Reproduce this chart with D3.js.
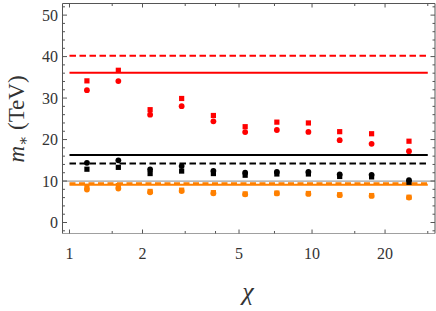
<!DOCTYPE html>
<html>
<head>
<meta charset="utf-8">
<script src="https://cdn.jsdelivr.net/npm/d3@7"></script>
<style>
  body { margin: 0; background: #fff; }
  text { font-family: "Liberation Serif", "DejaVu Serif", serif; fill: #333; }
</style>
</head>
<body>
<svg width="436" height="311"></svg>
<script>
const svg = d3.select("svg");

// chi values of the scan points
const chiValues = [1.18, 1.59, 2.15, 2.9, 3.92, 5.3, 7.16, 9.66, 13.0, 17.6, 25.1];

// m_* (TeV) for each series
const redSquares = [34.15, 36.7, 27.2, 29.9, 25.8, 23.1, 24.2, 24.0, 21.9, 21.4, 19.6];
const redCircles = [31.9, 34.1, 26.0, 28.05, 24.4, 21.8, 22.3, 21.85, 19.85, 18.96, 17.2];
const blackSquares = [12.85, 13.3, 11.8, 12.4, 11.8, 11.4, 11.7, 11.7, 11.1, 11.0, 9.7];
const blackCircles = [14.4, 15.0, 12.8, 13.6, 12.45, 12.0, 12.2, 12.2, 11.6, 11.5, 10.2];
const orangeSquares = [8.7, 8.9, 7.5, 7.8, 7.2, 6.9, 7.1, 7.0, 6.7, 6.5, 6.1];
const orangeCircles = [7.96, 8.2, 7.3, 7.6, 7.05, 6.8, 7.0, 6.9, 6.6, 6.4, 6.0];

// horizontal reference levels
const levelValues = [10.0, 40.2, 36.1, 16.3, 14.2, 9.45, 9.1];

// tick labels
const xMajorTicks = [1, 2, 5, 10, 20];
const xMinorTicks = [1.5, 3, 4, 7, 15, 30];
const yMajorTicks = [0, 10, 20, 30, 40, 50];

const red = "#ff0000", orange = "#ff8000", black = "#000";

// Frame of the plot
const frameL = 62.5, frameR = 435, frameT = 3.5, frameB = 233.5;

const xScale = d3.scaleLog().domain([0.9358, 32.13]).range([frameL, frameR]);
const yScale = d3.scaleLinear().domain([-2.65, 52.8]).range([frameB, frameT]);

// Reference lines: [colour, dash, full width?, stroke width]
const levelStyles = [
    ["#a0a0a0", null, true, 1.3],
    [red, "6.5,3.5", false, 2],
    [red, null, false, 2],
    [black, null, false, 2],
    [black, "6.5,3.5", false, 2],
    [orange, "6,3.5", false, 2],
    [orange, null, false, 2.2]
];

const plot = svg.append("g");

levelValues.forEach((v, i) => {
    const [colour, dash, full, w] = levelStyles[i];
    plot.append("line")
        .attr("x1", full ? frameL : xScale(1))
        .attr("x2", full ? frameR : xScale(30))
        .attr("y1", yScale(v))
        .attr("y2", yScale(v))
        .attr("stroke", colour)
        .attr("stroke-width", w)
        .attr("stroke-dasharray", dash);
});

// Markers
const addSquares = (values, colour) => {
    const s = 5.2;
    plot.append("g").selectAll("rect").data(values)
        .enter().append("rect")
        .attr("x", (d, i) => xScale(chiValues[i]) - s / 2)
        .attr("y", d => yScale(d) - s / 2)
        .attr("width", s)
        .attr("height", s)
        .attr("fill", colour);
};

const addCircles = (values, colour) => {
    plot.append("g").selectAll("circle").data(values)
        .enter().append("circle")
        .attr("cx", (d, i) => xScale(chiValues[i]))
        .attr("cy", d => yScale(d))
        .attr("r", 2.9)
        .attr("fill", colour);
};

addSquares(redSquares, red);
addCircles(redCircles, red);
addSquares(blackSquares, black);
addCircles(blackCircles, black);
addSquares(orangeSquares, orange);
addCircles(orangeCircles, orange);

// Frame
const frame = svg.append("g");
frame.append("line").attr("x1", frameL).attr("x2", frameR).attr("y1", frameB).attr("y2", frameB)
    .attr("stroke", "#a0a0a0").attr("stroke-width", 1.2);
frame.append("line").attr("x1", frameL).attr("x2", frameR).attr("y1", frameT).attr("y2", frameT)
    .attr("stroke", "#555").attr("stroke-width", 1);
frame.append("line").attr("x1", frameL).attr("x2", frameL).attr("y1", frameT).attr("y2", frameB)
    .attr("stroke", "#555").attr("stroke-width", 1);
frame.append("line").attr("x1", frameR).attr("x2", frameR).attr("y1", frameT).attr("y2", frameB)
    .attr("stroke", "#555").attr("stroke-width", 1);

// Ticks pointing inwards on all four sides
const yMinor = d3.range(-2, 53, 2).filter(d => d % 10 !== 0);
const tickColour = "#555";

const yTick = (v, len) => {
    [[frameL, len], [frameR, -len]].forEach(([x0, l]) => {
        frame.append("line")
            .attr("x1", x0).attr("x2", x0 + l)
            .attr("y1", yScale(v)).attr("y2", yScale(v))
            .attr("stroke", tickColour).attr("stroke-width", 1);
    });
};
yMajorTicks.forEach(v => yTick(v, 4.5));
yMinor.forEach(v => yTick(v, 2.5));

const xTick = (v, len) => {
    [[frameB, -len], [frameT, len]].forEach(([y0, l]) => {
        frame.append("line")
            .attr("x1", xScale(v)).attr("x2", xScale(v))
            .attr("y1", y0).attr("y2", y0 + l)
            .attr("stroke", tickColour).attr("stroke-width", 1);
    });
};
xMajorTicks.forEach(v => xTick(v, 4));
xMinorTicks.forEach(v => xTick(v, 2.5));

// Tick labels
svg.append("g").selectAll("text").data(yMajorTicks)
    .enter().append("text")
    .attr("x", frameL - 4.5)
    .attr("y", d => yScale(d) + 5.5)
    .attr("text-anchor", "end")
    .attr("font-size", 16)
    .text(d => d);

svg.append("g").selectAll("text").data(xMajorTicks)
    .enter().append("text")
    .attr("x", d => xScale(d))
    .attr("y", 258.5)
    .attr("text-anchor", "middle")
    .attr("font-size", 16)
    .text(d => d);

// Axis titles
svg.append("text")
    .attr("x", 248)
    .attr("y", 300)
    .attr("text-anchor", "middle")
    .attr("font-size", 26)
    .attr("font-style", "italic")
    .text("χ");

const yLabel = svg.append("text")
    .attr("transform", "translate(24,119) rotate(-90)")
    .attr("text-anchor", "middle")
    .attr("font-size", 23);
yLabel.append("tspan").attr("font-style", "italic").text("m");
yLabel.append("tspan").attr("font-size", 15).attr("dy", 4).text("∗");
yLabel.append("tspan").attr("dy", -4).text(" (TeV)");
</script>
</body>
</html>
